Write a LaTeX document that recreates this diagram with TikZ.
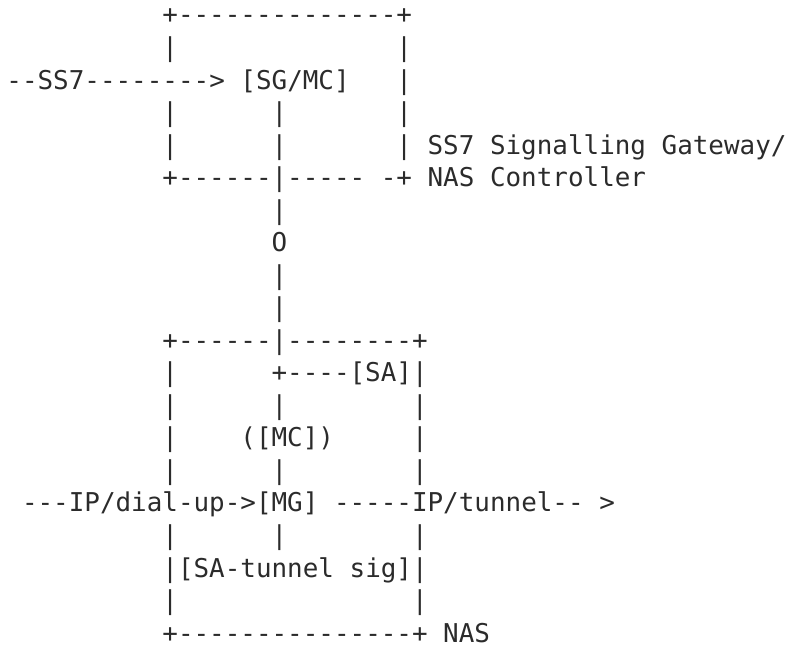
\documentclass[tikz,border=0pt]{standalone}
\usepackage{fontspec}
\usepackage{xcolor}
\usepackage{tikz}
\newfontfamily\asciifont{DejaVu Sans Mono}
\definecolor{ink}{HTML}{2B2B2B}

\begin{document}
\begin{tikzpicture}[
    x=7.8pt, y=-16.265pt,
    txt/.style={
        anchor=base west,
        inner sep=0pt,
        text=ink,
        font=\asciifont\fontsize{12.96pt}{16.265pt}\selectfont
    }
]
\useasboundingbox (-3pt,-4.265pt) rectangle (390pt,-327.265pt);

% --- SG/MC box ---
\node[txt] (sgtop) at (10,1) {+--------------+};
\node[txt] (ss7in) at (0,3) {--SS7--------> [SG/MC]};
\foreach \r in {2,4,5} \node[txt] (sgl\r) at (10,\r) {|};
\foreach \r in {4,5} \node[txt] (sgm\r) at (17,\r) {|};
\foreach \r in {2,...,5} \node[txt] (sgr\r) at (25,\r) {|};
\node[txt] (sgbot) at (10,6) {+------|----- -+};
\node[txt] (sglabel) at (27,5) {SS7 Signalling Gateway/};
\node[txt] (sglabelb) at (27,6) {NAS Controller};

% --- link ---
\foreach \r in {7,9,10} \node[txt] (link\r) at (17,\r) {|};
\node[txt] (joint) at (17,8) {O};

% --- NAS box ---
\node[txt] (nastop) at (10,11) {+------|--------+};
\node[txt] (salink) at (17,12) {+----};
\node[txt] (sa) at (22,12) {[SA]};
\foreach \r in {12,...,15,17,18,19} \node[txt] (nasl\r) at (10,\r) {|};
\foreach \r in {13,15,17} \node[txt] (nasm\r) at (17,\r) {|};
\foreach \r in {12,...,15,17,18,19} \node[txt] (nasr\r) at (26,\r) {|};
\node[txt] (mc) at (15,14) {([MC])};
\node[txt] (dialup) at (1,16) {---IP/dial-up->};
\node[txt] (mg) at (16,16) {[MG]};
\node[txt] (tunnel) at (21,16) {-----IP/tunnel-- >};
\node[txt] (satun) at (11,18) {[SA-tunnel sig]};
\node[txt] (nasbot) at (10,20) {+---------------+};
\node[txt] (naslabel) at (28,20) {NAS};

\end{tikzpicture}
\end{document}
